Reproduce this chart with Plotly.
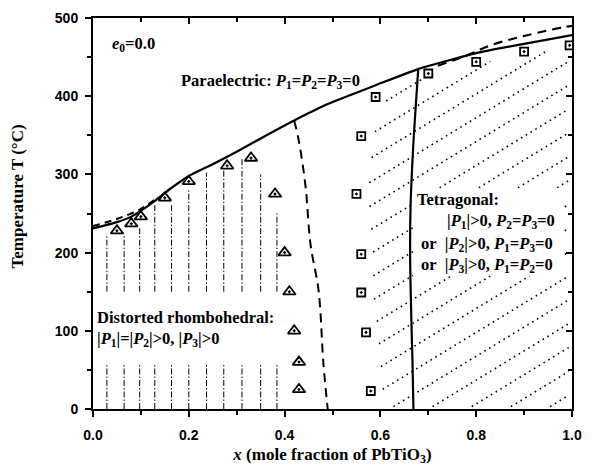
import numpy as np
import plotly.graph_objects as go

# ---------------- data ----------------
# experimental points, rhombohedral phase (triangles)
tri_x = [0.05, 0.08, 0.10, 0.15, 0.20, 0.28, 0.33, 0.38, 0.40, 0.41, 0.42, 0.43, 0.43]
tri_T = [228, 237, 246, 270, 291, 311, 321, 275, 200, 150, 100, 60, 25]

# experimental points, tetragonal phase (squares)
sq_x = [0.58, 0.57, 0.56, 0.56, 0.55, 0.56, 0.59, 0.70, 0.80, 0.90, 0.995]
sq_T = [23, 98, 149, 198, 275, 349, 399, 429, 444, 457, 465]

# paraelectric / ferroelectric boundary (solid)
pc_x = [0.0, 0.05, 0.08, 0.12, 0.16, 0.20, 0.25, 0.30, 0.35, 0.42, 0.49, 0.59, 0.68, 0.80, 0.90, 1.0]
pc_T = [231, 239, 246, 262, 281, 298, 313, 329, 346, 369, 390, 414, 435, 455, 467, 478]

# metastable extensions of that boundary (dashed)
pcl_x = [0.0, 0.05, 0.10, 0.13]
pcl_T = [234, 243, 256, 268]
pcr_x = [0.72, 0.78, 0.83, 0.90, 0.98, 1.0]
pcr_T = [439, 452, 465, 477, 488, 490]

# rhombohedral boundary (dashed)
rb_x = [0.42, 0.43, 0.444, 0.454, 0.471, 0.481, 0.49]
rb_T = [369, 342, 283, 211, 151, 58, 0]

# tetragonal boundary (solid)
tb_x = [0.679, 0.673, 0.668, 0.663, 0.662, 0.664, 0.667, 0.669]
tb_T = [435, 380, 330, 260, 200, 130, 60, 0]

# vertical dash-dot hatching of the rhombohedral region
rh_hatch_x = [0.029, 0.065, 0.0975, 0.129, 0.164, 0.20, 0.237, 0.273, 0.311, 0.350, 0.384]
rh_hatch_top = [224, 224, 232, 262, 262, 281, 302, 306, 321, 300, 251]
rh_low_top = 57
rh_up_bottom = 150

# diagonal dotted hatching of the tetragonal region
tet_slope = 373.0      # degC per unit x
tet_step = 30.5        # vertical spacing, degC
tet_phase = 16.6

x_ticks = [0.0, 0.2, 0.4, 0.6, 0.8, 1.0]
y_ticks = [0, 100, 200, 300, 400, 500]

# ---------------- build hatch geometry ----------------
hx, hy = [], []
for xv, top in zip(rh_hatch_x, rh_hatch_top):
    hx += [xv, xv, None, xv, xv, None]
    hy += [0, rh_low_top, None, rh_up_bottom, top, None]

xs = np.linspace(0, 1, 4001)
curve = np.interp(xs, pc_x, pc_T)
order = [i for i in np.argsort(sq_T) if sq_T[i] <= 400]
bT = [sq_T[i] for i in order]
bx = [sq_x[i] for i in order]
dx, dy = [], []
for k in range(-8, 15):
    c = tet_phase + k * tet_step
    Tl = c + tet_slope * (xs - 0.5)
    left = np.interp(Tl, bT, bx) + 0.025
    m = (xs >= left) & (Tl >= 3) & (Tl <= curve - 14) & (xs <= 0.993)
    m &= ~((xs > 0.668) & (xs < 0.985) & (Tl > 170) & (Tl < 283))
    seg = False
    for i in range(len(xs)):
        if m[i]:
            if not seg:
                dx.append(xs[i]); dy.append(Tl[i]); seg = True
        else:
            if seg:
                dx.append(xs[i - 1]); dy.append(Tl[i - 1]); dx.append(None); dy.append(None); seg = False
    if seg:
        dx.append(xs[-1]); dy.append(Tl[-1]); dx.append(None); dy.append(None)

fig = go.Figure()
fig.add_trace(go.Scatter(x=dx, y=dy, mode="lines", line=dict(color="black", width=1.6, dash="1.6px,4px"),
                         hoverinfo="skip", showlegend=False))
fig.add_trace(go.Scatter(x=hx, y=hy, mode="lines", line=dict(color="black", width=1, dash="6px,2px,1.5px,2px"),
                         hoverinfo="skip", showlegend=False))
fig.add_trace(go.Scatter(x=pc_x, y=pc_T, mode="lines", line=dict(color="black", width=2.2, shape="spline", smoothing=0.5),
                         showlegend=False))
fig.add_trace(go.Scatter(x=pcl_x, y=pcl_T, mode="lines", line=dict(color="black", width=2, dash="7px,5px", shape="spline"),
                         showlegend=False))
fig.add_trace(go.Scatter(x=pcr_x, y=pcr_T, mode="lines", line=dict(color="black", width=2.2, dash="9px,6px", shape="spline"),
                         showlegend=False))
fig.add_trace(go.Scatter(x=rb_x, y=rb_T, mode="lines", line=dict(color="black", width=2, dash="9px,6px", shape="spline"),
                         showlegend=False))
fig.add_trace(go.Scatter(x=tb_x, y=tb_T, mode="lines", line=dict(color="black", width=2.2, shape="spline"),
                         showlegend=False))
fig.add_trace(go.Scatter(x=tri_x, y=tri_T, mode="markers",
                         marker=dict(symbol="triangle-up-open-dot", size=11, color="black", line=dict(width=1.8)),
                         showlegend=False))
fig.add_trace(go.Scatter(x=sq_x, y=sq_T, mode="markers", cliponaxis=True,
                         marker=dict(symbol="square-open-dot", size=8, color="black", line=dict(width=1.8)),
                         showlegend=False))
# dummy trace for the mirrored (top/right) axes
fig.add_trace(go.Scatter(x=[None], y=[None], xaxis="x2", yaxis="y2", showlegend=False, hoverinfo="skip"))

serif = "Liberation Serif"
tf = dict(family=serif, size=16.5, color="black", weight="bold")
ann = [
    ("<i>e</i><sub>0</sub>=0.0", 0.038, 467),
    ("Paraelectric: <i>P</i><sub>1</sub>=<i>P</i><sub>2</sub>=<i>P</i><sub>3</sub>=0", 0.181, 419),
    ("Tetragonal:", 0.675, 268),
    ("|<i>P</i><sub>1</sub>|&gt;0, <i>P</i><sub>2</sub>=<i>P</i><sub>3</sub>=0", 0.736, 241),
    ("or&nbsp;&nbsp;|<i>P</i><sub>2</sub>|&gt;0, <i>P</i><sub>1</sub>=<i>P</i><sub>3</sub>=0", 0.682, 211),
    ("or&nbsp;&nbsp;|<i>P</i><sub>3</sub>|&gt;0, <i>P</i><sub>1</sub>=<i>P</i><sub>2</sub>=0", 0.682, 184),
    ("Distorted rhombohedral:", 0.006, 117),
    ("|<i>P</i><sub>1</sub>|=|<i>P</i><sub>2</sub>|&gt;0, |<i>P</i><sub>3</sub>|&gt;0", 0.006, 90),
]
for t, x, y in ann:
    fig.add_annotation(text=t, x=x, y=y, xref="x", yref="y", xanchor="left", yanchor="middle",
                       showarrow=False, font=tf, borderpad=0)

fig.add_annotation(text="Temperature T (°C)", textangle=-90, x=-0.157, y=0.543, xref="paper", yref="paper",
                   xanchor="center", yanchor="middle", showarrow=False,
                   font=dict(family=serif, size=17, color="black", weight="bold"))

tickfont = dict(family="Liberation Sans", size=14, color="black", weight="bold")
common = dict(showgrid=False, zeroline=False, showline=True, linecolor="black", linewidth=2)
fig.update_layout(
    width=592, height=474,
    margin=dict(l=93, r=10, t=16, b=65),
    paper_bgcolor="white", plot_bgcolor="white",
    xaxis=dict(range=[0, 1], tickvals=x_ticks, ticktext=[f"{v:.1f}" for v in x_ticks],
               ticks="outside", ticklen=6, tickwidth=2, tickcolor="black",
               minor=dict(dtick=0.1, ticks="outside", ticklen=4, tickwidth=1.5, tickcolor="black"),
               tickfont=tickfont, ticklabelstandoff=6,
               title=dict(text="<i>x</i> (mole fraction of PbTiO<sub>3</sub>)",
                          font=dict(family=serif, size=17, color="black", weight="bold"), standoff=6),
               **common),
    yaxis=dict(range=[0, 500], tickvals=y_ticks, ticks="outside", ticklen=6, tickwidth=2, tickcolor="black",
               minor=dict(dtick=50, ticks="outside", ticklen=4, tickwidth=1.5, tickcolor="black"),
               tickfont=tickfont, ticklabelstandoff=4, **common),
    xaxis2=dict(range=[0, 1], overlaying="x", side="top", anchor="y2", tickvals=x_ticks, showticklabels=False,
                ticks="inside", ticklen=6, tickwidth=2, tickcolor="black",
                minor=dict(dtick=0.1, ticks="inside", ticklen=4, tickwidth=1.5, tickcolor="black"), **common),
    yaxis2=dict(range=[0, 500], overlaying="y", side="right", anchor="x2", tickvals=y_ticks, showticklabels=False,
                ticks="inside", ticklen=6, tickwidth=2, tickcolor="black",
                minor=dict(dtick=50, ticks="inside", ticklen=4, tickwidth=1.5, tickcolor="black"), **common),
)

fig.write_html("out.html")
